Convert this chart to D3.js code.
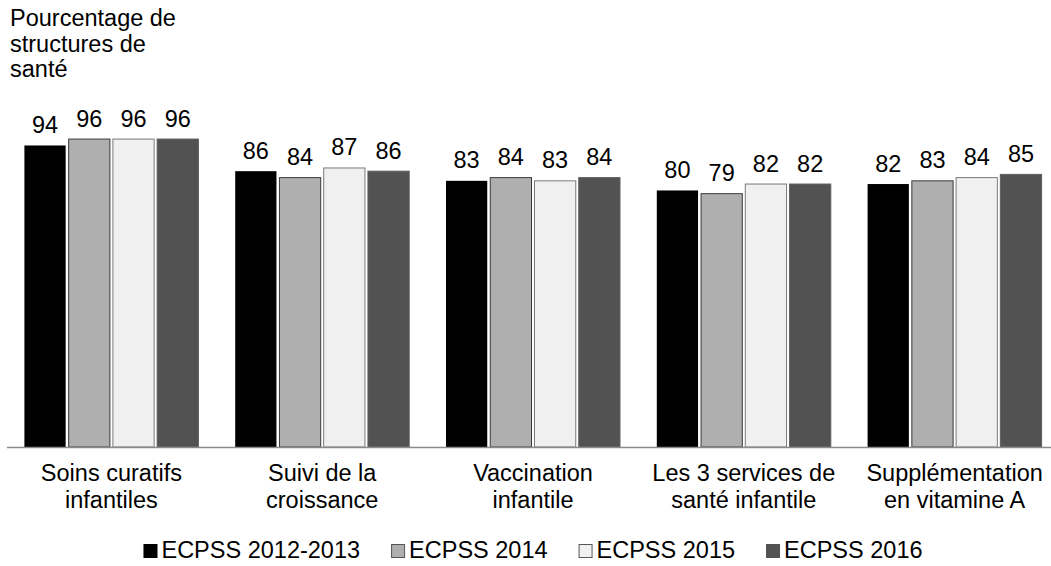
<!DOCTYPE html>
<html>
<head>
<meta charset="utf-8">
<script src="https://cdnjs.cloudflare.com/ajax/libs/d3/7.8.5/d3.min.js"></script>
<style>
  html, body { margin: 0; padding: 0; background: #ffffff; }
  svg { display: block; }
  text { font-family: "Liberation Sans", Arial, sans-serif; fill: #000; }
</style>
</head>
<body>
<svg id="chart" width="1051" height="566"></svg>
<script>
const categories = [
  ["Soins curatifs", "infantiles"],
  ["Suivi de la", "croissance"],
  ["Vaccination", "infantile"],
  ["Les 3 services de", "santé infantile"],
  ["Supplémentation", "en vitamine A"]
];
const seriesNames = ["ECPSS 2012-2013", "ECPSS 2014", "ECPSS 2015", "ECPSS 2016"];
const s2012 = [94, 86, 83, 80, 82];
const s2014 = [96, 84, 84, 79, 83];
const s2015 = [96, 87, 83, 82, 84];
const s2016 = [96, 86, 84, 82, 85];
const titleLines = ["Pourcentage de", "structures de", "santé"];

const seriesValues = [s2012, s2014, s2015, s2016];
const fills = ["#000000", "#afafaf", "#f0f0f0", "#525252"];
const strokes = ["none", "#3a3a3a", "#7a7a7a", "#5e5e5e"];

const svg = d3.select("#chart");
const FS = 23.5;

const catKeys = categories.map(c => c.join(" "));
const x0 = d3.scaleBand().domain(catKeys).range([6, 1060]).paddingInner(0).paddingOuter(0);
const x1 = d3.scaleBand().domain(seriesNames).range([-87.5, 87.5]).paddingInner(0.045).paddingOuter(0);
const y = d3.scaleLinear().domain([0, 100]).range([447, 125.7]);

// title
const title = svg.append("text").style("font-size", FS + "px");
titleLines.forEach((t, i) => {
  title.append("tspan").attr("x", 10).attr("y", 26 + i * 25.5).text(t);
});

// bars
const data = [];
catKeys.forEach((c, ci) => {
  seriesNames.forEach((s, si) => {
    data.push({ cat: c, series: s, si, value: seriesValues[si][ci] });
  });
});

const groups = svg.append("g");
groups.selectAll("rect.bar").data(data).enter().append("rect")
  .attr("class", "bar")
  .attr("x", d => x0(d.cat) + x0.bandwidth() / 2 + x1(d.series) + 0.5)
  .attr("y", d => y(d.value) + 0.5)
  .attr("width", x1.bandwidth() - 1)
  .attr("height", d => y(0) - y(d.value) - 0.5)
  .attr("fill", d => fills[d.si])
  .attr("stroke", d => strokes[d.si])
  .attr("stroke-width", 1);

groups.selectAll("text.val").data(data).enter().append("text")
  .attr("class", "val")
  .attr("x", d => x0(d.cat) + x0.bandwidth() / 2 + x1(d.series) + x1.bandwidth() / 2)
  .attr("y", d => y(d.value) - 12)
  .attr("text-anchor", "middle")
  .style("font-size", FS + "px")
  .text(d => d.value);

// baseline axis
const xAxis = d3.axisBottom(x0).tickSize(0).tickFormat(() => "");
const axG = svg.append("g").attr("transform", `translate(0, ${y(0)})`).call(xAxis);
axG.select(".domain").attr("d", "M7,0.5H1051").attr("stroke", "#8a8a8a").attr("stroke-width", 1.5);

// category labels
categories.forEach((lines, ci) => {
  const cx = x0(catKeys[ci]) + x0.bandwidth() / 2;
  const t = svg.append("text").attr("text-anchor", "middle").style("font-size", FS + "px");
  lines.forEach((l, li) => {
    t.append("tspan").attr("x", cx).attr("y", 481 + li * 26.5).text(l);
  });
});

// legend
const leg = svg.append("g");
let lx = 0;
seriesNames.forEach((s, si) => {
  const g = leg.append("g");
  g.append("rect").attr("x", lx + 0.5).attr("y", 544.5).attr("width", 13).attr("height", 13)
    .attr("fill", fills[si]).attr("stroke", si === 0 ? "#000" : (si === 3 ? "#525252" : "#555")).attr("stroke-width", 1);
  const t = g.append("text").attr("x", lx + 18).attr("y", 558).style("font-size", FS + "px").text(s);
  const w = t.node().getComputedTextLength();
  lx = lx + 18 + w + 31;
});
const totalW = lx - 31;
leg.attr("transform", `translate(${533 - totalW / 2}, 0)`);
</script>
</body>
</html>
